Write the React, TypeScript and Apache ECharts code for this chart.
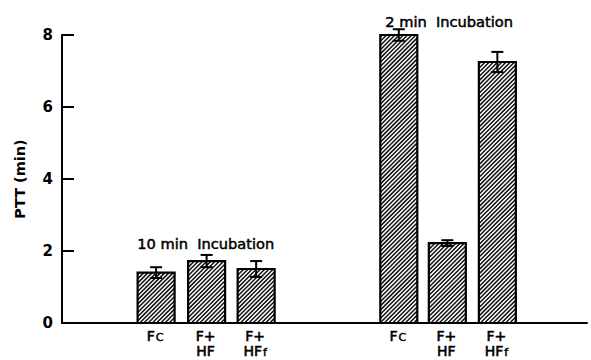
import React, { useEffect, useRef } from "react";
import * as echarts from "echarts";

// Bar positions along the x axis (slot units) and their labels
const positions = [1.9, 2.92, 3.92, 6.8, 7.78, 8.79];
const labels = ["{m|F}{s|C}", "{m|F+}\n{m|HF}", "{m|F+}\n{m|HF}{s|f}", "{m|F}{s|C}", "{m|F+}\n{m|HF}", "{m|F+}\n{m|HF}{s|f}"];
// PTT means (min) and their error half-widths
const ptt = [1.4, 1.72, 1.5, 8.0, 2.22, 7.25];
const errors = [0.15, 0.17, 0.22, 0.16, 0.08, 0.28];
const yTicks = [0, 2, 4, 6, 8];
const groupTitles = ["10 min  Incubation", "2 min  Incubation"];

const FONT = "DejaVu Sans, Verdana, sans-serif";

export default function App() {
  const ref = useRef<HTMLDivElement>(null);

  useEffect(() => {
    if (!ref.current) return;
    const chart = echarts.init(ref.current, undefined, { renderer: "svg" });

    const data = positions.map((x, i) => [x, ptt[i], errors[i], i]);

    const renderItem = (params: any, api: any) => {
      const x = api.value(0);
      const v = api.value(1);
      const e = api.value(2);
      const idx = api.value(3);
      const [cx, top] = api.coord([x, v]);
      const base = api.coord([x, 0])[1];
      const bw = 37;
      const x0 = cx - bw / 2;
      const x1 = cx + bw / 2;
      const y0 = top;
      const y1 = base;
      const children: any[] = [];
      children.push({
        type: "rect",
        shape: { x: x0, y: y0, width: bw, height: y1 - y0 },
        style: { fill: "#fff", stroke: "none" },
      });
      // diagonal hatching, lines x + y = c clipped to the bar
      const step = 4.2;
      for (let c = x0 + y0 + step / 2; c < x1 + y1; c += step) {
        const xa = Math.max(x0, c - y1);
        const xb = Math.min(x1, c - y0);
        if (xb <= xa) continue;
        children.push({
          type: "line",
          shape: { x1: xa, y1: c - xa, x2: xb, y2: c - xb },
          style: { stroke: "#111", lineWidth: 1.5 },
        });
      }
      children.push({
        type: "rect",
        shape: { x: x0, y: y0, width: bw, height: y1 - y0 },
        style: { fill: "none", stroke: "#000", lineWidth: 2.2 },
      });
      // error bar with caps
      const et = api.coord([x, v + e])[1];
      const eb = api.coord([x, v - e])[1];
      const cap = 6;
      children.push({
        type: "line",
        shape: { x1: cx, y1: et, x2: cx, y2: eb },
        style: { stroke: "#000", lineWidth: 2 },
      });
      children.push({
        type: "line",
        shape: { x1: cx - cap, y1: et, x2: cx + cap, y2: et },
        style: { stroke: "#000", lineWidth: 2 },
      });
      children.push({
        type: "line",
        shape: { x1: cx - cap, y1: eb, x2: cx + cap, y2: eb },
        style: { stroke: "#000", lineWidth: 2 },
      });
      // category label under the axis
      children.push({
        type: "text",
        x: cx - 1,
        y: base + 5,
        style: {
          text: labels[idx],
          align: "center",
          verticalAlign: "top",
          fill: "#000",
          lineHeight: 15,
          rich: {
            m: { fontFamily: FONT, fontSize: 14, fill: "#000", lineHeight: 15, stroke: "#000", lineWidth: 0.6 },
            s: { fontFamily: FONT, fontSize: 11, fill: "#000", padding: [3, 0, 0, 1], lineHeight: 15, stroke: "#000", lineWidth: 0.5 },
          },
        },
      });
      return { type: "group", children };
    };

    const titleStyle = {
      fontFamily: FONT,
      fontSize: 14.6,
      fill: "#000",
      stroke: "#000",
      lineWidth: 0.5,
    };

    chart.setOption({
      animation: false,
      grid: { left: 62, right: 4, top: 35, bottom: 37 },
      xAxis: {
        type: "value",
        min: 0,
        max: 10.6,
        axisLine: { show: true, onZero: false, lineStyle: { color: "#000", width: 2 } },
        axisTick: { show: false },
        axisLabel: { show: false },
        splitLine: { show: false },
      },
      yAxis: {
        type: "value",
        min: 0,
        max: 8,
        interval: 2,
        name: "PTT (min)",
        nameLocation: "middle",
        nameGap: 35,
        nameRotate: 90,
        nameTextStyle: { fontFamily: FONT, fontSize: 14.5, fontWeight: "bold", color: "#000" },
        axisLine: { show: true, lineStyle: { color: "#000", width: 2 } },
        axisTick: {
          show: true,
          inside: true,
          length: 12,
          lineStyle: { color: "#000", width: 2 },
          customValues: yTicks,
        },
        axisLabel: {
          fontFamily: FONT,
          fontSize: 15,
          fontWeight: "bold",
          color: "#000",
          margin: 9,
          customValues: yTicks,
        },
        splitLine: { show: false },
      },
      graphic: [
        {
          type: "text",
          left: 137,
          top: 236,
          style: { text: groupTitles[0], ...titleStyle },
        },
        {
          type: "text",
          left: 385,
          top: 14,
          style: { text: groupTitles[1], ...titleStyle },
        },
      ],
      series: [
        {
          type: "custom",
          renderItem,
          data,
          clip: false,
          encode: { x: 0, y: 1 },
        },
      ],
    });

    return () => chart.dispose();
  }, []);

  return (
    <div
      ref={ref}
      style={{ position: "fixed", left: 0, top: 0, width: 591, height: 360, background: "#fff" }}
    />
  );
}
